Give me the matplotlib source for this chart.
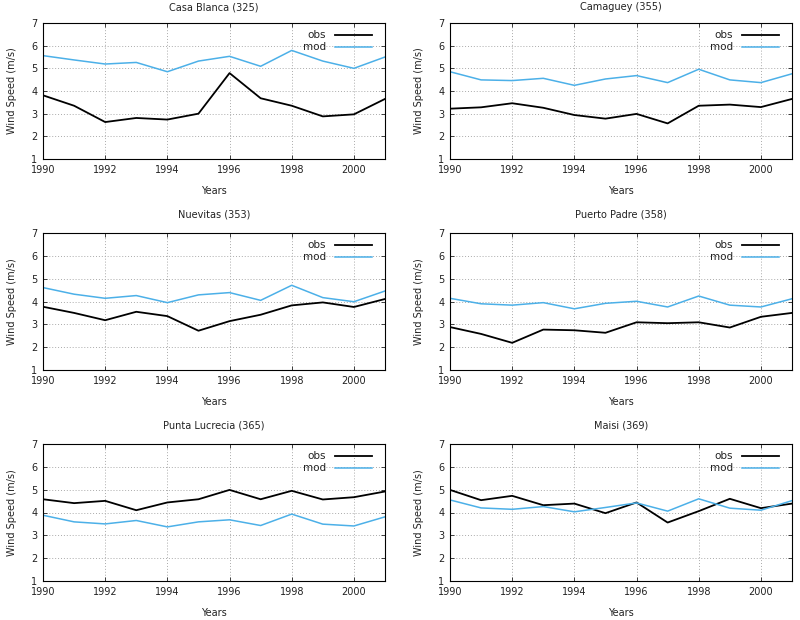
import matplotlib
matplotlib.use("Agg")
import matplotlib.pyplot as plt

years = list(range(1990, 2002))

stations = ["Casa Blanca (325)", "Camaguey (355)", "Nuevitas (353)",
            "Puerto Padre (358)", "Punta Lucrecia (365)", "Maisi (369)"]

casa_obs = [3.81, 3.35, 2.63, 2.81, 2.74, 3.00, 4.79, 3.68, 3.35, 2.88, 2.97, 3.65]
casa_mod = [5.56, 5.37, 5.19, 5.26, 4.85, 5.32, 5.53, 5.09, 5.79, 5.32, 5.00, 5.50]

cama_obs = [3.22, 3.28, 3.46, 3.26, 2.94, 2.78, 2.99, 2.57, 3.35, 3.40, 3.29, 3.65]
cama_mod = [4.85, 4.49, 4.46, 4.56, 4.25, 4.53, 4.68, 4.37, 4.96, 4.49, 4.37, 4.76]

nuev_obs = [3.77, 3.50, 3.18, 3.55, 3.36, 2.72, 3.14, 3.42, 3.83, 3.96, 3.76, 4.11]
nuev_mod = [4.61, 4.32, 4.14, 4.26, 3.95, 4.29, 4.39, 4.05, 4.71, 4.17, 3.99, 4.46]

pupa_obs = [2.88, 2.58, 2.19, 2.77, 2.74, 2.63, 3.09, 3.05, 3.09, 2.86, 3.33, 3.50]
pupa_mod = [4.14, 3.90, 3.84, 3.95, 3.68, 3.92, 4.01, 3.76, 4.24, 3.84, 3.76, 4.12]

pulu_obs = [4.58, 4.41, 4.51, 4.10, 4.44, 4.58, 4.99, 4.58, 4.95, 4.57, 4.67, 4.92]
pulu_mod = [3.88, 3.59, 3.50, 3.65, 3.37, 3.59, 3.68, 3.43, 3.93, 3.49, 3.41, 3.81]

maisi_obs = [4.99, 4.54, 4.73, 4.32, 4.39, 3.97, 4.44, 3.56, 4.06, 4.60, 4.19, 4.39]
maisi_mod = [4.55, 4.20, 4.14, 4.26, 4.03, 4.22, 4.42, 4.06, 4.60, 4.19, 4.10, 4.52]

obs_all = [casa_obs, cama_obs, nuev_obs, pupa_obs, pulu_obs, maisi_obs]
mod_all = [casa_mod, cama_mod, nuev_mod, pupa_mod, pulu_mod, maisi_mod]

txt = "#222222"
plt.rcParams["font.size"] = 7
plt.rcParams["text.color"] = txt
plt.rcParams["axes.labelcolor"] = txt
plt.rcParams["xtick.color"] = txt
plt.rcParams["ytick.color"] = txt

fig = plt.figure(figsize=(8, 6.2), dpi=100)

# axes boxes in pixels (left, top, right, bottom)
lefts = [43, 450]
rows = [(23, 159), (233, 370), (444, 581)]

for i in range(6):
    r, c = divmod(i, 2)
    x0 = lefts[c]
    top, bot = rows[r]
    ax = fig.add_axes([x0 / 800, 1 - bot / 620, 342 / 800, (bot - top) / 620])
    ax.plot(years, obs_all[i], color="black", lw=1.3, label="obs")
    ax.plot(years, mod_all[i], color="#4cb0e8", lw=1.1, label="mod")
    ax.set_xlim(1990, 2001)
    ax.set_ylim(1, 7)
    ax.set_xticks(range(1990, 2001, 2))
    ax.set_yticks(range(1, 8))
    ax.grid(True, color="#aaaaaa", ls=(0, (1, 2)), lw=0.7)
    ax.tick_params(direction="in", top=True, right=True, length=3, width=0.6, pad=4)
    for s in ax.spines.values():
        s.set_linewidth(0.8)
    ax.set_title(stations[i], fontsize=7, pad=9 if r == 0 else 11)
    ax.set_xlabel("Years", labelpad=8)
    ax.set_ylabel("Wind Speed (m/s)", labelpad=10)
    ax.legend(loc="upper right", bbox_to_anchor=(1 - 6 / 342, 1),
              frameon=False, markerfirst=False,
              handlelength=3.5, fontsize=7.5, borderaxespad=0.3,
              labelspacing=0.2, handletextpad=0.9)

fig.savefig("out.png", dpi=100)
